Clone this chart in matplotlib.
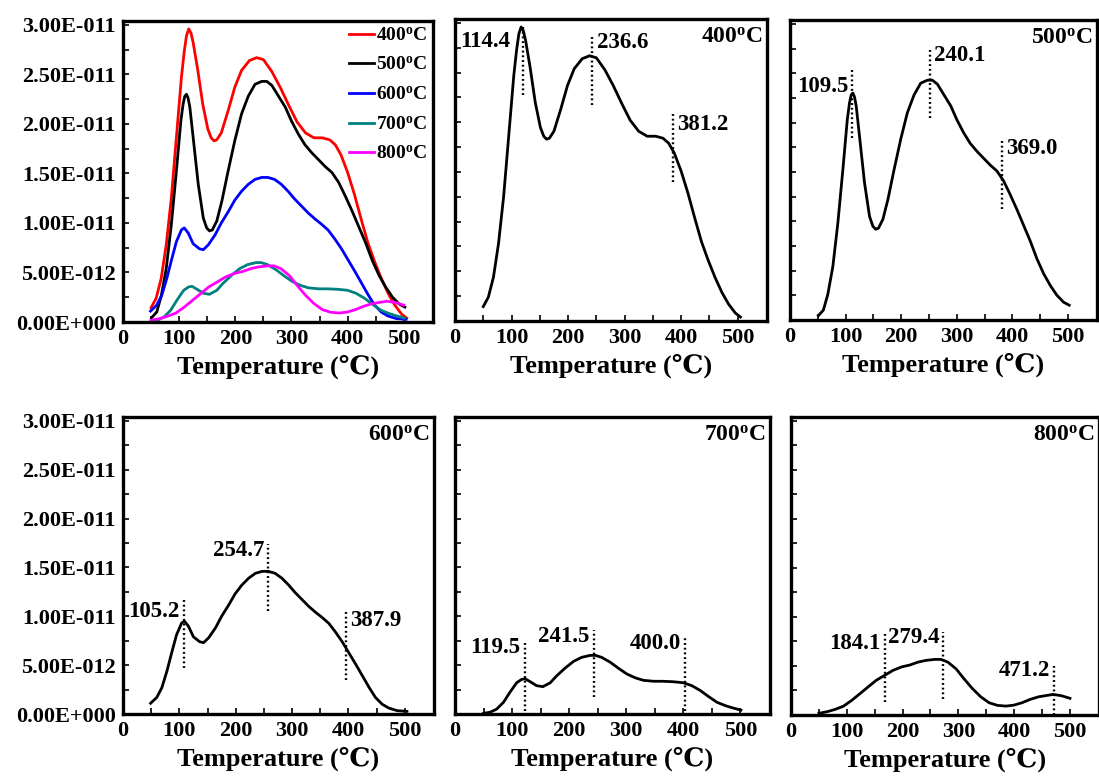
import math
import matplotlib
matplotlib.use("Agg")
import matplotlib.pyplot as plt
from matplotlib.ticker import FuncFormatter

# temperature (C) and signal (units of 1e-11)
t400 = [50, 59, 68, 77, 86, 95, 104, 109, 113, 117, 121, 125, 133, 142, 151, 157, 162, 167, 175, 187,
        199, 211, 225, 238, 250, 265, 280, 295, 310, 325, 340, 355, 368, 378, 388, 400, 412, 424, 436, 448,
        460, 472, 484, 496, 505]
v400 = [0.145, 0.24, 0.44, 0.78, 1.25, 1.86, 2.47, 2.73, 2.89, 2.96, 2.92, 2.82, 2.55, 2.20, 1.95, 1.86,
        1.83, 1.84, 1.91, 2.13, 2.37, 2.54, 2.64, 2.67, 2.65, 2.53, 2.37, 2.19, 2.02, 1.91, 1.86, 1.86, 1.84,
        1.79, 1.69, 1.51, 1.29, 1.04, 0.80, 0.61, 0.44, 0.29, 0.17, 0.08, 0.04]

t500 = [51, 60, 68, 77, 86, 95, 103, 107, 110, 113, 116, 119, 125, 134, 143, 149, 154, 159, 167, 176, 187,
        199, 211, 223, 235, 247, 256, 265, 277, 289, 300, 312, 324, 336, 348, 360, 372, 384, 396, 408, 420,
        432, 444, 456, 468, 480, 492, 502]
v500 = [0.044, 0.10, 0.26, 0.54, 0.98, 1.52, 2.03, 2.20, 2.28, 2.30, 2.26, 2.17, 1.86, 1.39, 1.05, 0.95,
        0.92, 0.93, 1.02, 1.22, 1.52, 1.83, 2.10, 2.28, 2.40, 2.43, 2.43, 2.39, 2.28, 2.17, 2.03, 1.90, 1.79,
        1.71, 1.64, 1.57, 1.51, 1.41, 1.27, 1.12, 0.96, 0.80, 0.62, 0.47, 0.35, 0.25, 0.18, 0.15]

t600 = [49, 60, 69, 78, 87, 95, 104, 109, 116, 125, 136, 143, 152, 164, 175, 187, 199, 211, 223, 235, 247,
        258, 270, 282, 294, 306, 318, 330, 342, 353, 365, 377, 389, 401, 413, 425, 437, 448, 460, 472, 487, 504]
v600 = [0.11, 0.17, 0.27, 0.44, 0.64, 0.81, 0.93, 0.95, 0.90, 0.79, 0.74, 0.73, 0.78, 0.88, 1.00, 1.11, 1.23,
        1.32, 1.39, 1.44, 1.46, 1.46, 1.44, 1.39, 1.32, 1.24, 1.17, 1.10, 1.04, 0.99, 0.93, 0.84, 0.74, 0.625,
        0.51, 0.39, 0.27, 0.17, 0.10, 0.06, 0.034, 0.027]

t700 = [50, 61, 73, 85, 96, 108, 117, 123, 132, 143, 154, 167, 178, 193, 208, 222, 237, 246, 257, 272, 286,
        301, 316, 330, 348, 365, 383, 400, 415, 430, 444, 459, 474, 488, 501]
v700 = [0.007, 0.017, 0.05, 0.12, 0.22, 0.32, 0.355, 0.36, 0.33, 0.29, 0.28, 0.32, 0.39, 0.47, 0.54, 0.58,
        0.60, 0.60, 0.58, 0.53, 0.47, 0.41, 0.37, 0.345, 0.335, 0.335, 0.33, 0.32, 0.29, 0.24, 0.18, 0.12,
        0.085, 0.06, 0.04]

t800 = [50, 65, 79, 94, 109, 124, 139, 153, 168, 183, 198, 213, 228, 242, 257, 269, 281, 296, 310, 325, 340,
        355, 370, 385, 399, 414, 429, 444, 459, 470, 485, 500]
v800 = [0.017, 0.034, 0.057, 0.09, 0.15, 0.22, 0.29, 0.355, 0.405, 0.456, 0.49, 0.51, 0.54, 0.557, 0.567,
        0.567, 0.54, 0.47, 0.37, 0.27, 0.186, 0.125, 0.098, 0.091, 0.10, 0.125, 0.16, 0.186, 0.20, 0.21,
        0.196, 0.17]

names = ["400", "500", "600", "700", "800"]
temps = [t400, t500, t600, t700, t800]
vals = [v400, v500, v600, v700, v800]
colors = ["#ff0000", "#000000", "#0000ff", "#008080", "#ff00ff"]

# peak marks: label, line x, line bottom, line top, label y (1e-11), label side (l/r)
peaks = {
    "400": [("114.4", 120, 2.27, 2.96, 2.81, "l"), ("236.6", 243, 2.17, 2.87, 2.80, "r"),
            ("381.2", 386, 1.40, 2.10, 1.98, "r")],
    "500": [("109.5", 112, 1.84, 2.54, 2.37, "l"), ("240.1", 252, 2.05, 2.75, 2.68, "r"),
            ("369.0", 381, 1.12, 1.82, 1.74, "r")],
    "600": [("105.2", 108, 0.47, 1.18, 1.05, "l"), ("254.7", 258, 1.05, 1.74, 1.67, "l"),
            ("387.9", 396, 0.35, 1.05, 0.96, "r")],
    "700": [("119.5", 122, 0.03, 0.74, 0.68, "l"), ("241.5", 243, 0.17, 0.86, 0.79, "l"),
            ("400.0", 403, 0.03, 0.78, 0.72, "l")],
    "800": [("184.1", 168, 0.135, 0.83, 0.73, "l"), ("279.4", 273, 0.16, 0.85, 0.79, "l"),
            ("471.2", 472, 0.0, 0.50, 0.456, "l")],
}

xticks = [0, 100, 200, 300, 400, 500]
xminor = [50, 150, 250, 350, 450]
yticks = [0, 0.5e-11, 1.0e-11, 1.5e-11, 2.0e-11, 2.5e-11, 3.0e-11]
yminor = [0.25e-11, 0.75e-11, 1.25e-11, 1.75e-11, 2.25e-11, 2.75e-11]

plt.rcParams['font.family'] = ['Liberation Serif', 'DejaVu Serif']
plt.rcParams['font.weight'] = 'bold'
plt.rcParams['axes.labelweight'] = 'bold'
plt.rcParams['mathtext.fontset'] = 'custom'
plt.rcParams['mathtext.rm'] = 'Liberation Serif:bold'
plt.rcParams['mathtext.it'] = 'Liberation Serif:bold'
plt.rcParams['mathtext.bf'] = 'Liberation Serif:bold'

W, H = 1099, 778
fig = plt.figure(figsize=(W / 100, H / 100), dpi=100)


def box(l, t, r, b):
    return [l / W, 1 - b / H, (r - l) / W, (b - t) / H]


def sci(v, pos):
    if v == 0:
        return "0.00E+000"
    e = int(math.floor(math.log10(abs(v)) + 1e-9))
    return "{:.2f}E{:+04d}".format(v / 10 ** e, e)


def setup(ax, left_labels):
    ax.set_xlim(0, 552)
    ax.set_ylim(0, 3.04e-11)
    ax.set_xticks(xticks)
    ax.set_xticks(xminor, minor=True)
    ax.set_yticks(yticks)
    ax.set_yticks(yminor, minor=True)
    ax.yaxis.set_major_formatter(FuncFormatter(sci))
    ax.tick_params(which='both', direction='in', length=4, width=1.2, labelsize=16, pad=5,
                   labelleft=left_labels)
    for s in ax.spines.values():
        s.set_linewidth(2.4)
    ax.set_xlabel("Temperature (℃)", fontsize=19, labelpad=4)


boxes = [box(123, 21, 433, 322), box(455, 19, 767, 321), box(790, 20, 1097, 320),
         box(123, 417, 434, 714), box(455, 417, 770, 714), box(791, 417, 1099, 715)]

# overlay panel
ax0 = fig.add_axes(boxes[0])
setup(ax0, True)
for n, t, v, c in zip(names, temps, vals, colors):
    ax0.plot(t, [a * 1e-11 for a in v], color=c, lw=2.0, solid_joinstyle='round',
             label=n + r"$^\mathrm{o}$C")
ax0.legend(loc='upper right', frameon=False, fontsize=14, handlelength=1.3, handletextpad=0.1,
           labelspacing=0.62, borderaxespad=0.1, borderpad=0.2)

# single panels
for i, (n, t, v) in enumerate(zip(names, temps, vals)):
    ax = fig.add_axes(boxes[i + 1])
    setup(ax, i + 1 == 3)
    ax.plot(t, [a * 1e-11 for a in v], color='black', lw=2.0, solid_joinstyle='round')
    ax.text(0.985, 0.94, n + r"$^\mathrm{o}$C", transform=ax.transAxes, ha='right', va='center',
            fontsize=17)
    for j, (lab, x, y0, y1, ly, side) in enumerate(peaks[n]):
        ax.plot([x, x], [y0 * 1e-11, y1 * 1e-11], color='black', lw=1.7, ls=(0, (0.8, 1.2)))
        gap = 9 if (n == "400" and j == 0) else 3
        ax.annotate(lab, (x, ly * 1e-11), xytext=(-gap if side == "l" else gap, 0),
                    textcoords='offset points', ha='right' if side == "l" else 'left',
                    va='center', fontsize=16.5)

fig.savefig("out.png", dpi=100)
